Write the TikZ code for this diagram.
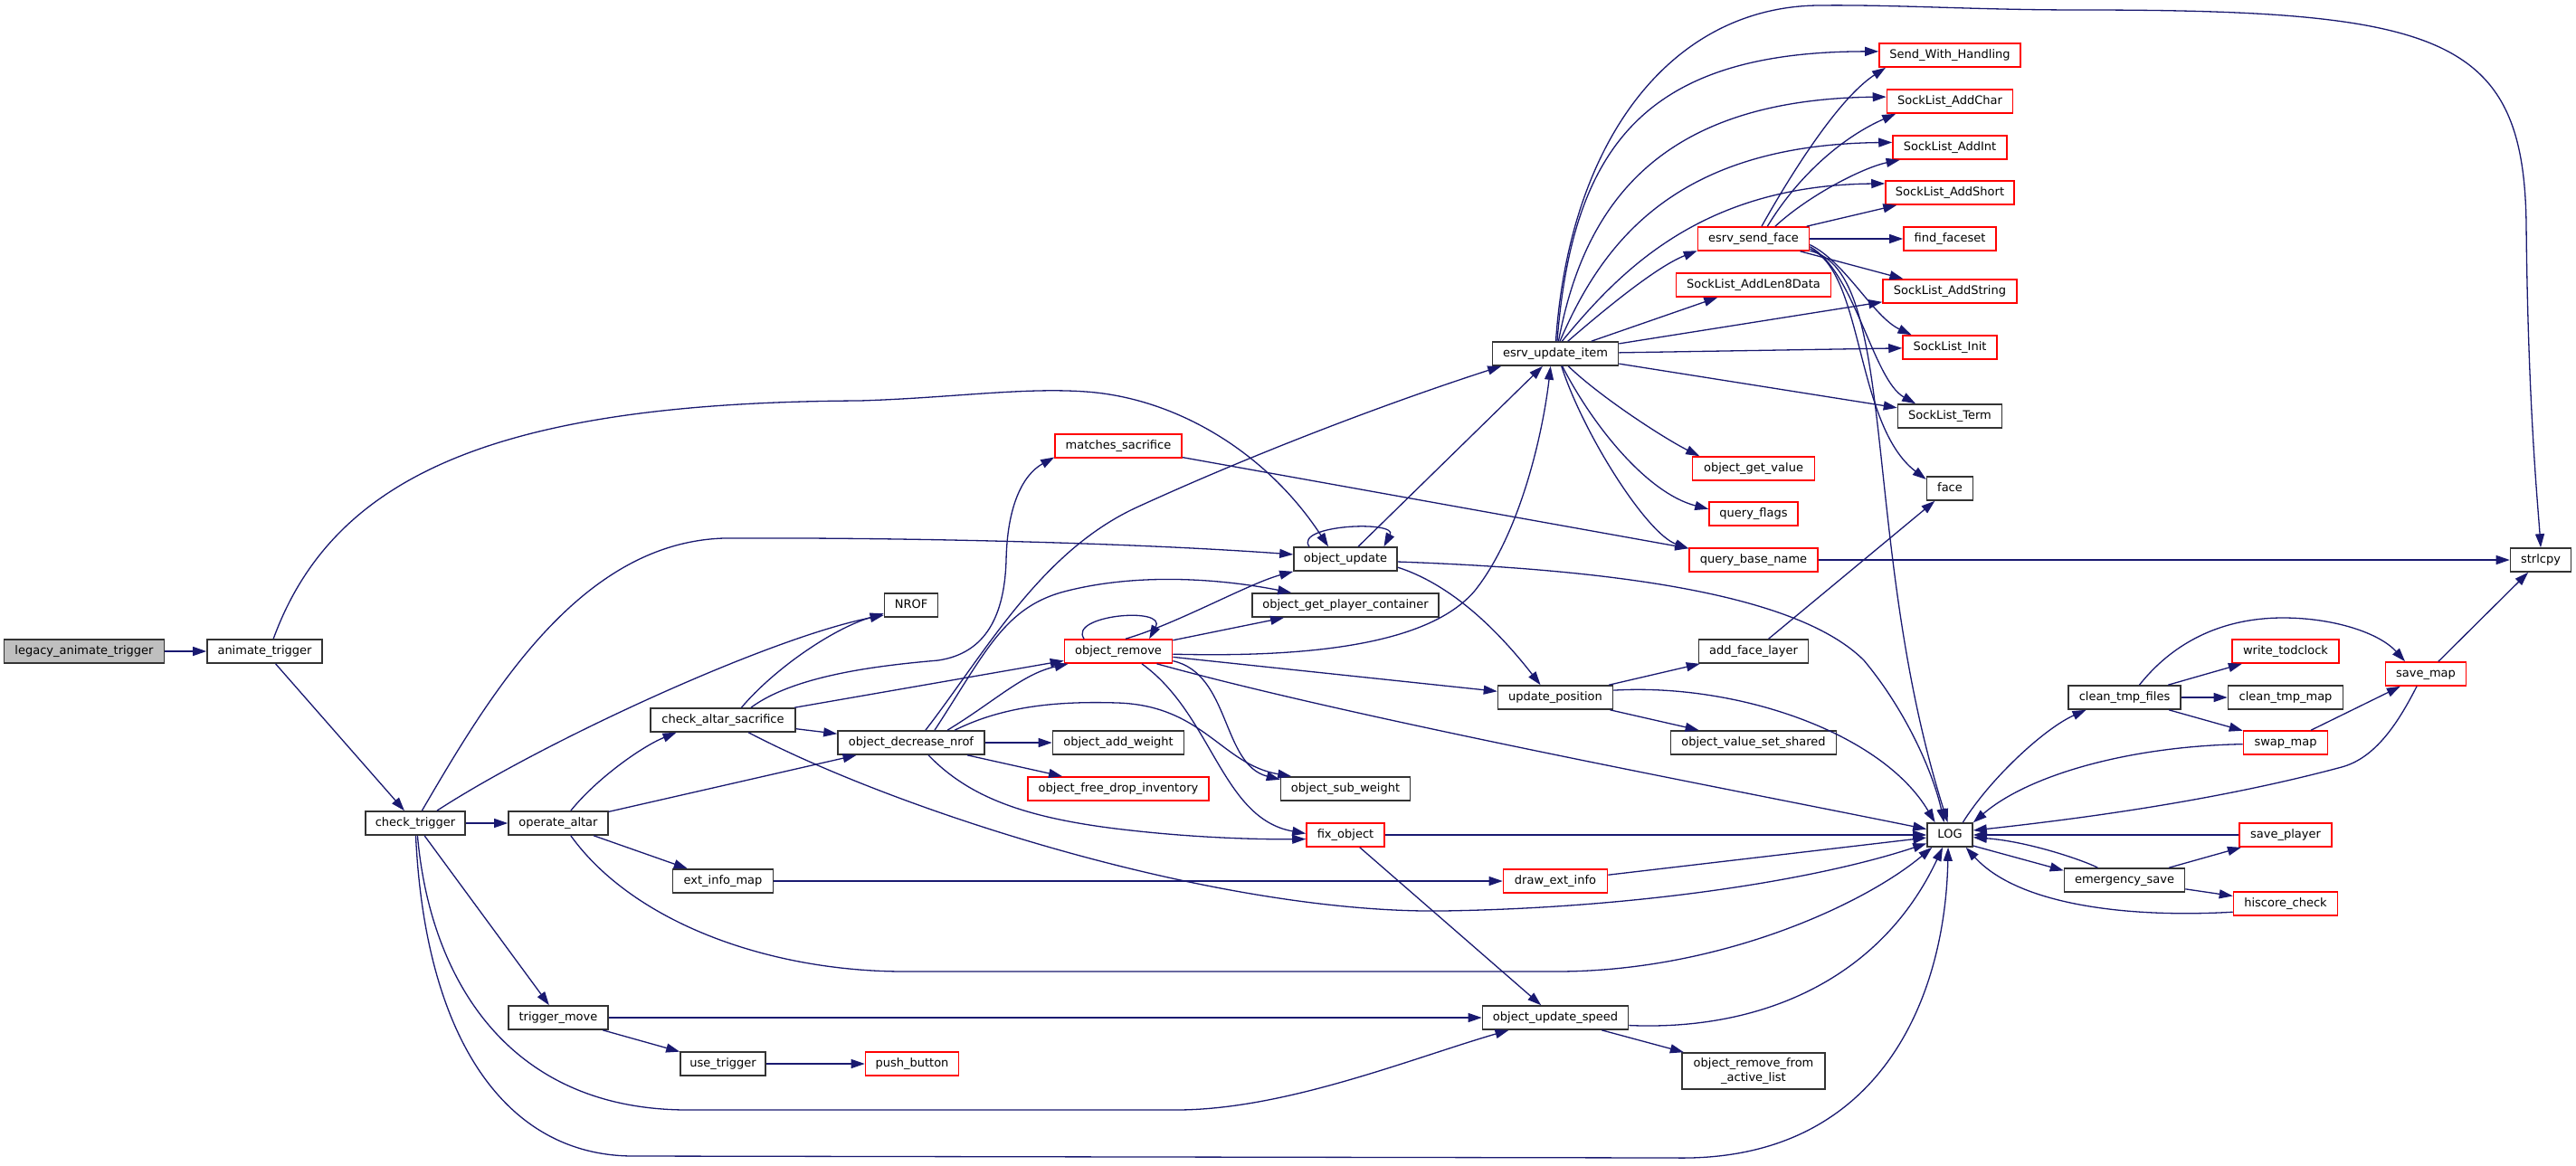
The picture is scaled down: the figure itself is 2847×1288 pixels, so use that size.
\documentclass[tikz,border=0pt]{standalone}
\usepackage{fontspec}
\setmainfont{DejaVu Sans}
\usetikzlibrary{arrows.meta}
\definecolor{edgeblue}{RGB}{25,25,112}
\definecolor{boxline}{RGB}{51,51,51}
\definecolor{boxred}{RGB}{255,0,0}
\begin{document}
\begin{tikzpicture}[x=1pt,y=-1pt,
  fnbase/.style={draw=boxline, line width=1.6pt, fill=white, minimum height=26pt, inner sep=0pt,
    font=\fontsize{13}{15.6}\selectfont},
  fn/.style={fnbase, text height=9.5pt, text depth=3pt},
  fnred/.style={fn, draw=boxred},
  fnroot/.style={fn, fill=black!25},
  call/.style={draw=edgeblue, line width=1.3pt, -{Triangle[length=15pt,width=10pt]}}]
\useasboundingbox (0,0) rectangle (2847,1288);
\fill[white] (0,0) rectangle (2847,1288);

% nodes
\node[fnroot, minimum width=177pt] (leg) at (93,720) {legacy\_animate\_trigger};
\node[fn, minimum width=127pt] (anim) at (292.5,720) {animate\_trigger};
\node[fn, minimum width=110pt] (ct) at (459,910) {check\_trigger};
\node[fn, minimum width=110pt] (oa) at (617,910) {operate\_altar};
\node[fn, minimum width=160pt] (cas) at (799,796) {check\_altar\_sacrifice};
\node[fn, minimum width=59pt] (nrof) at (1007,669) {NROF};
\node[fn, minimum width=162pt] (odn) at (1007,821) {object\_decrease\_nrof};
\node[fnred, minimum width=140pt] (ms) at (1236,493) {matches\_sacrifice};
\node[fnred, minimum width=119pt] (orm) at (1236,720) {object\_remove};
\node[fn, minimum width=145pt] (oaw) at (1236,821) {object\_add\_weight};
\node[fnred, minimum width=200pt] (ofdi) at (1236,872) {object\_free\_drop\_inventory};
\node[fn, minimum width=111pt] (eim) at (799,974) {ext\_info\_map};
\node[fn, minimum width=110pt] (tm) at (617,1125) {trigger\_move};
\node[fn, minimum width=94pt] (ut) at (799,1176) {use\_trigger};
\node[fnred, minimum width=103pt] (pb) at (1008,1176) {push\_button};
\node[fn, minimum width=114pt] (ou) at (1487,618) {object\_update};
\node[fn, minimum width=206pt] (ogpc) at (1487,669) {object\_get\_player\_container};
\node[fn, minimum width=143pt] (osw) at (1487,872) {object\_sub\_weight};
\node[fnred, minimum width=86pt] (fo) at (1487,923) {fix\_object};
\node[fn, minimum width=139pt] (eui) at (1719,391) {esrv\_update\_item};
\node[fn, minimum width=127pt] (up) at (1719,771) {update\_position};
\node[fnred, minimum width=115pt] (dei) at (1719,974) {draw\_ext\_info};
\node[fn, minimum width=161pt] (ous) at (1719,1125) {object\_update\_speed};
\node[fnred, minimum width=123pt] (esf) at (1938,264) {esrv\_send\_face};
\node[fnred, minimum width=171pt] (sal8) at (1938,315) {SockList\_AddLen8Data};
\node[fnred, minimum width=135pt] (ogv) at (1938,518) {object\_get\_value};
\node[fnred, minimum width=98pt] (qf) at (1938,568) {query\_flags};
\node[fnred, minimum width=142pt] (qbn) at (1938,619) {query\_base\_name};
\node[fn, minimum width=121pt] (afl) at (1938,720) {add\_face\_layer};
\node[fn, minimum width=183pt] (ovss) at (1938,821) {object\_value\_set\_shared};
\node[fnbase, minimum width=158pt, minimum height=40pt, align=center] (orfal) at (1938,1184) {object\_remove\_from\\\_active\_list};
\node[fnred, minimum width=156pt] (swh) at (2155,61) {Send\_With\_Handling};
\node[fnred, minimum width=139pt] (slac) at (2155,112) {SockList\_AddChar};
\node[fnred, minimum width=126pt] (slai) at (2155,163) {SockList\_AddInt};
\node[fnred, minimum width=142pt] (slas) at (2155,213) {SockList\_AddShort};
\node[fnred, minimum width=102pt] (ffs) at (2155,264) {find\_faceset};
\node[fnred, minimum width=148pt] (slastr) at (2155,322) {SockList\_AddString};
\node[fnred, minimum width=104pt] (sli) at (2155,384) {SockList\_Init};
\node[fn, minimum width=115pt] (slt) at (2155,460) {SockList\_Term};
\node[fn, minimum width=51pt] (face) at (2155,540) {face};
\node[fn, minimum width=50pt] (LOG) at (2155,923) {LOG};
\node[fn, minimum width=124pt] (ctf) at (2348,771) {clean\_tmp\_files};
\node[fn, minimum width=133pt] (es) at (2348,973) {emergency\_save};
\node[fnred, minimum width=118pt] (wtc) at (2526,720) {write\_todclock};
\node[fn, minimum width=127pt] (ctm) at (2526,771) {clean\_tmp\_map};
\node[fnred, minimum width=93pt] (swm) at (2526,821) {swap\_map};
\node[fnred, minimum width=102pt] (sp) at (2526,923) {save\_player};
\node[fnred, minimum width=115pt] (hc) at (2526,999) {hiscore\_check};
\node[fnred, minimum width=89pt] (sm) at (2681,745) {save\_map};
\node[fn, minimum width=67pt] (strl) at (2808,619) {strlcpy};

% edges
\draw[call] (leg) -- (anim);
\draw[call] (anim) -- (ct);
\draw[call] (anim.55) .. controls (370,520) and (560,445) .. (950,443) .. controls (1050,440) and (1130,428) .. (1200,433) .. controls (1300,440) and (1400,500) .. (ou.144);

\draw[call] (ct) -- (oa);
\draw[call] (ct.30) .. controls (600,820) and (850,705) .. (nrof.200);
\draw[call] (ct.62) .. controls (540,770) and (640,600) .. (800,595) .. controls (1000,594) and (1250,600) .. (ou.175);
\draw[call] (ct) -- (tm);
\draw[call] (ct.280) .. controls (475,1080) and (560,1227) .. (760,1227) -- (1300,1227) .. controls (1420,1227) and (1560,1170) .. (ous.195);
\draw[call] (ct.272) .. controls (470,1150) and (560,1278) .. (700,1278) -- (1850,1280) .. controls (2080,1285) and (2150,1100) .. (LOG.262);

\draw[call] (oa.45) .. controls (660,860) and (710,825) .. (cas.195);
\draw[call] (oa) -- (odn);
\draw[call] (oa) -- (eim);
\draw[call] (oa.315) .. controls (700,1020) and (850,1074) .. (1000,1074) -- (1720,1074) .. controls (1900,1074) and (2060,1000) .. (LOG.215);

\draw[call] (cas.34) .. controls (855,740) and (920,695) .. (nrof.197);
\draw[call] (cas.24) .. controls (880,745) and (980,735) .. (1037,730) .. controls (1090,722) and (1110,680) .. (1112,620) .. controls (1113,560) and (1130,525) .. (ms.190);
\draw[call] (cas) -- (orm);
\draw[call] (cas) -- (odn);
\draw[call] (cas.334) .. controls (1000,900) and (1350,1010) .. (1594,1007) .. controls (1800,1004) and (2000,975) .. (LOG.200);

\draw[call] (odn.41) .. controls (1090,720) and (1150,610) .. (1256,561) .. controls (1400,495) and (1550,440) .. (eui.193);
\draw[call] (odn.28) .. controls (1090,720) and (1110,670) .. (1180,653) .. controls (1260,633) and (1350,640) .. (ogpc.167);
\draw[call] (odn.19) .. controls (1100,775) and (1130,745) .. (orm.194);
\draw[call] (odn.16) .. controls (1110,780) and (1170,775) .. (1235,777) .. controls (1330,780) and (1350,845) .. (osw.167);
\draw[call] (odn) -- (oaw);
\draw[call] (odn) -- (ofdi);
\draw[call] (odn.324) .. controls (1070,880) and (1130,905) .. (1250,918) .. controls (1330,927) and (1400,928) .. (fo.186);

\draw[call] (orm.160) .. controls (1180,680) and (1290,670) .. (orm.22);
\draw[call] (orm.60) .. controls (1300,690) and (1380,645) .. (ou.south west);
\draw[call] (orm) -- (ogpc);
\draw[call] (orm.357) .. controls (1450,727) and (1580,712) .. (1630,653) .. controls (1680,590) and (1705,480) .. (eui.249);
\draw[call] (orm) -- (up);
\draw[call] (orm.342) .. controls (1500,795) and (1900,870) .. (LOG.166);
\draw[call] (orm.350) .. controls (1360,745) and (1350,845) .. (osw.172);
\draw[call] (orm.332) .. controls (1340,790) and (1350,905) .. (fo.178);

\draw[call] (ou.161) .. controls (1430,580) and (1545,575) .. (ou.18);
\draw[call] (ou) -- (eui);
\draw[call] (ou.351) .. controls (1600,645) and (1650,690) .. (up.140);
\draw[call] (ou.357) .. controls (1800,630) and (1990,660) .. (2060,730) .. controls (2110,790) and (2138,860) .. (LOG.115);

\draw[call] (up) -- (afl);
\draw[call] (up) -- (ovss);
\draw[call] (up.7) .. controls (1920,755) and (2080,810) .. (LOG.140);
\draw[call] (afl) -- (face);

\draw[call] (fo) -- (LOG);
\draw[call] (fo) -- (ous);
\draw[call] (eim) -- (dei);
\draw[call] (dei) -- (LOG);
\draw[call] (tm) -- (ous);
\draw[call] (tm) -- (ut);
\draw[call] (ut) -- (pb);
\draw[call] (ous.354) .. controls (1950,1140) and (2080,1080) .. (LOG.240);
\draw[call] (ous) -- (orfal);
\draw[call] (ms) -- (qbn);
\draw[call] (qbn) -- (strl);

\draw[call] (eui.88) .. controls (1735,150) and (1850,8) .. (2009,6) .. controls (2100,5) and (2180,11) .. (2300,11) .. controls (2700,11) and (2790,40) .. (2792,250) .. controls (2794,450) and (2805,560) .. (strl.north);
\draw[call] (eui.82) .. controls (1738,160) and (1820,57) .. (swh.177);
\draw[call] (eui.76) .. controls (1750,230) and (1830,110) .. (slac.176);
\draw[call] (eui.70) .. controls (1770,270) and (1850,160) .. (slai.175);
\draw[call] (eui.62) .. controls (1790,300) and (1880,205) .. (slas.172);
\draw[call] (eui.45) .. controls (1770,345) and (1830,295) .. (esf.192);
\draw[call] (eui) -- (sal8);
\draw[call] (eui) -- (slastr);
\draw[call] (eui) -- (sli);
\draw[call] (eui) -- (slt);
\draw[call] (eui.316) .. controls (1770,440) and (1840,485) .. (ogv.167);
\draw[call] (eui.299) .. controls (1760,470) and (1820,545) .. (qf.174);
\draw[call] (eui.296) .. controls (1750,480) and (1820,590) .. (qbn.170);

\draw[call] (esf.57) .. controls (1975,200) and (2030,110) .. (swh.191);
\draw[call] (esf.42) .. controls (1990,190) and (2040,150) .. (slac.193);
\draw[call] (esf.30) .. controls (2000,215) and (2060,185) .. (slai.194);
\draw[call] (esf) -- (slas);
\draw[call] (esf) -- (ffs);
\draw[call] (esf) -- (slastr);
\draw[call] (esf.354) .. controls (2040,290) and (2070,350) .. (sli.162);
\draw[call] (esf.352) .. controls (2050,300) and (2070,420) .. (slt.160);
\draw[call] (esf.350) .. controls (2060,300) and (2050,470) .. (face.159);
\draw[call] (esf.348) .. controls (2100,300) and (2055,600) .. (LOG.100);

\draw[call] (LOG.44) .. controls (2200,860) and (2260,805) .. (ctf.198);
\draw[call] (LOG.335) -- (es.171);
\draw[call] (ctf.40) .. controls (2410,700) and (2470,683) .. (2523,683) .. controls (2580,683) and (2630,700) .. (sm.149);
\draw[call] (ctf) -- (wtc);
\draw[call] (ctf) -- (ctm);
\draw[call] (ctf) -- (swm);
\draw[call] (swm) -- (sm);
\draw[call] (swm.182) .. controls (2350,825) and (2240,858) .. (LOG.28);
\draw[call] (sm) -- (strl);
\draw[call] (sm.234) .. controls (2650,800) and (2625,838) .. (2588,848) .. controls (2450,885) and (2300,905) .. (LOG.11);
\draw[call] (sp) -- (LOG);
\draw[call] (es.155) .. controls (2300,950) and (2240,930) .. (LOG.354);
\draw[call] (es) -- (sp);
\draw[call] (es) -- (hc);
\draw[call] (hc.189) .. controls (2350,1015) and (2230,1000) .. (LOG.322);
\end{tikzpicture}
\end{document}
